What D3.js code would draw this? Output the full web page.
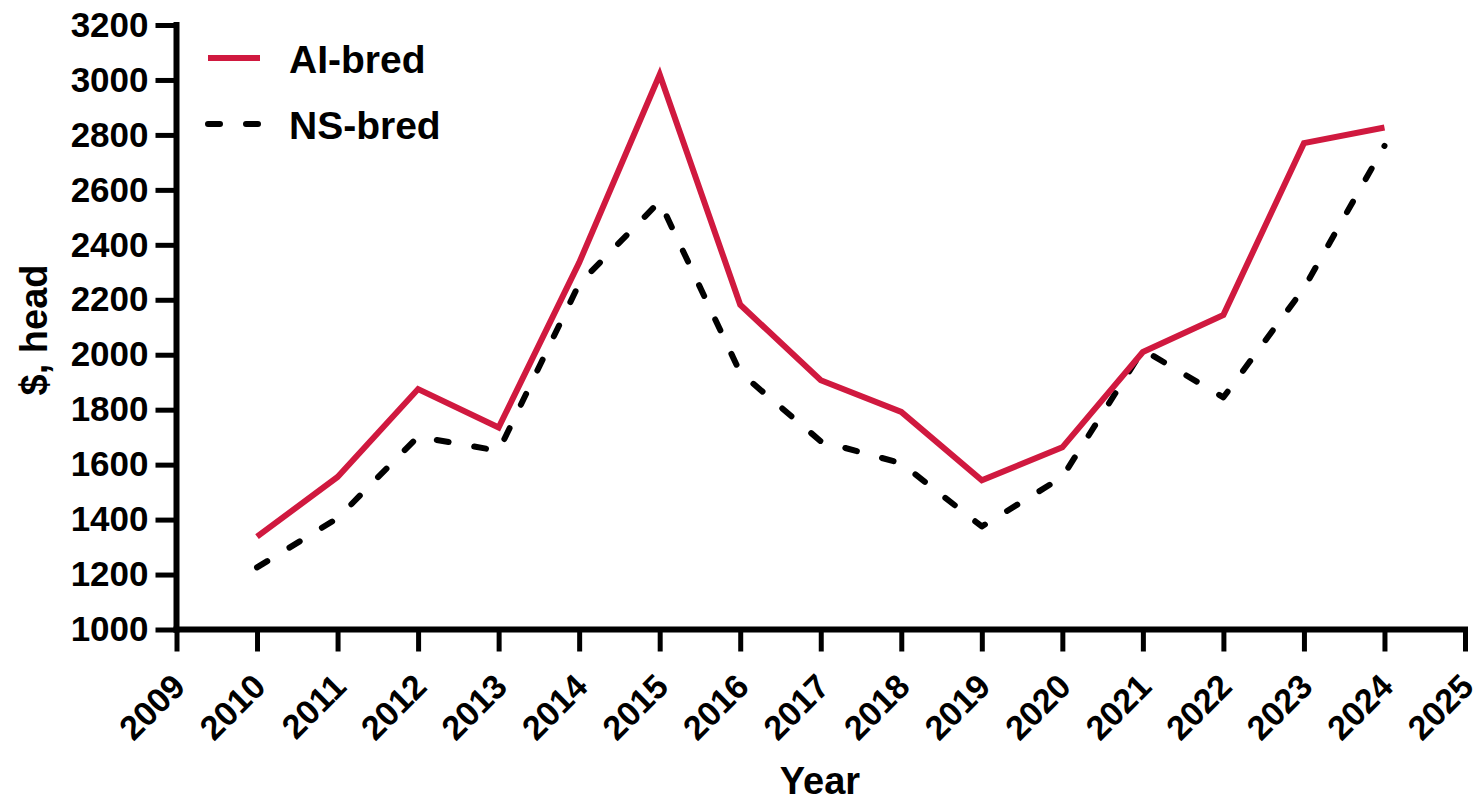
<!DOCTYPE html>
<html>
<head>
<meta charset="utf-8">
<script src="https://cdn.jsdelivr.net/npm/d3@7"></script>
<style>
  body { margin: 0; background: #fff; }
  svg { display: block; }
  text { font-family: "Liberation Sans", Arial, sans-serif; font-weight: bold; fill: #000; }
</style>
</head>
<body>
<svg id="chart" width="1478" height="801"></svg>
<script>
const years = [2010, 2011, 2012, 2013, 2014, 2015, 2016, 2017, 2018, 2019, 2020, 2021, 2022, 2023, 2024];
const aiBred = [1338, 1555, 1875, 1735, 2335, 3020, 2182, 1907, 1792, 1543, 1663, 2010, 2145, 2770, 2827];
const nsBred = [1226, 1405, 1702, 1650, 2258, 2558, 1935, 1685, 1605, 1375, 1555, 2018, 1845, 2242, 2760];
const xTicks = d3.range(2009, 2026);
const yTicks = d3.range(1000, 3201, 200);
const seriesNames = ["AI-bred", "NS-bred"];

const svg = d3.select("#chart");
const x = d3.scaleLinear().domain([2009, 2025]).range([176.5, 1465]);
const y = d3.scaleLinear().domain([1000, 3200]).range([629.5, 25]);

const red = "#D0193F";

// lines
const line = d3.line().x((d, i) => x(years[i])).y(d => y(d));
svg.append("path").datum(nsBred).attr("d", line)
  .attr("fill", "none").attr("stroke", "#000").attr("stroke-width", 6)
  .attr("stroke-dasharray", "12 26").attr("stroke-linecap", "round").attr("stroke-linejoin", "round");
svg.append("path").datum(aiBred).attr("d", line)
  .attr("fill", "none").attr("stroke", red).attr("stroke-width", 6)
  .attr("stroke-linejoin", "miter");

// axes
const xAxis = svg.append("g").attr("transform", `translate(0,${y(1000)})`)
  .call(d3.axisBottom(x).tickValues(xTicks).tickFormat(d3.format("d")).tickSize(22).tickSizeOuter(0));
xAxis.select(".domain").attr("stroke-width", 6).attr("d", `M${x(2009)-3},0H${x(2025)+3}`);
xAxis.selectAll(".tick line").attr("stroke-width", 5);
xAxis.selectAll(".tick text")
  .attr("font-size", 34).attr("font-family", null)
  .attr("text-anchor", "end")
  .attr("transform", "translate(-7,42) rotate(-45)")
  .attr("dy", "0.71em").attr("y", 0).attr("x", 0);

const yAxis = svg.append("g").attr("transform", `translate(${x(2009)},0)`)
  .call(d3.axisLeft(y).tickValues(yTicks).tickFormat(d3.format("d")).tickSize(21).tickSizeOuter(0));
yAxis.select(".domain").attr("stroke-width", 6).attr("d", `M0,${y(3200)-3}V${y(1000)+3}`);
yAxis.selectAll(".tick line").attr("stroke-width", 5);
yAxis.selectAll(".tick text").attr("font-size", 35).attr("font-family", null).attr("x", -28);

// axis titles
svg.append("text").attr("x", 820).attr("y", 794).attr("text-anchor", "middle")
  .attr("font-size", 38).text("Year");
svg.append("text").attr("transform", `translate(47,330) rotate(-90)`).attr("text-anchor", "middle")
  .attr("font-size", 38).text("$, head");

// legend
const lg = svg.append("g");
lg.append("line").attr("x1", 208).attr("x2", 260).attr("y1", 58).attr("y2", 58)
  .attr("stroke", red).attr("stroke-width", 6);
lg.append("line").attr("x1", 208).attr("x2", 262).attr("y1", 124).attr("y2", 124)
  .attr("stroke", "#000").attr("stroke-width", 6).attr("stroke-dasharray", "12 26").attr("stroke-linecap", "round");
lg.append("text").attr("x", 289).attr("y", 73).attr("font-size", 39).text(seriesNames[0]);
lg.append("text").attr("x", 289).attr("y", 139).attr("font-size", 39).text(seriesNames[1]);
</script>
</body>
</html>
